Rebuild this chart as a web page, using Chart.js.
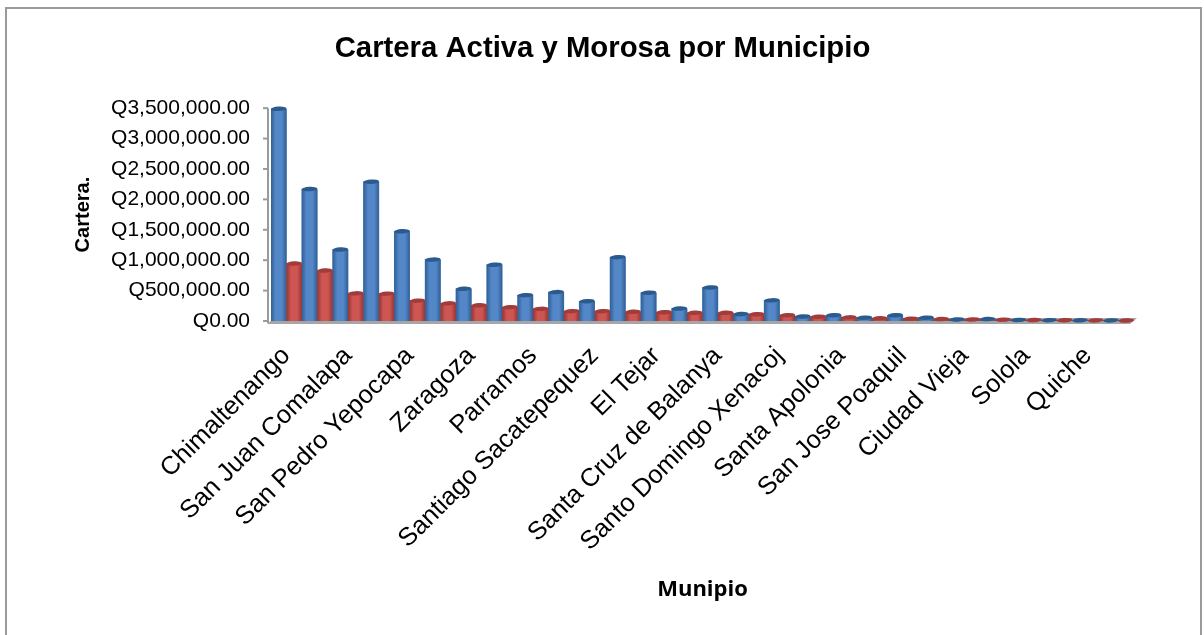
<!DOCTYPE html>
<html>
<head>
<meta charset="utf-8">
<script src="https://cdn.jsdelivr.net/npm/chart.js@4"></script>
<style>
  html, body { margin: 0; padding: 0; background: #fff; overflow: hidden; }
  #frame { position: absolute; left: 5px; top: 7px; width: 1197px; height: 640px; border: 2px solid #9a9a9a; box-sizing: border-box; }
  #wrap { position: absolute; left: 0; top: 0; width: 1204px; height: 635px; }
</style>
</head>
<body>
<div id="frame"></div>
<div id="wrap"><canvas id="chart"></canvas></div>
<script>
// only every second municipality name is readable on the axis
const categories = ['Chimaltenango', '', 'San Juan Comalapa', '', 'San Pedro Yepocapa', '', 'Zaragoza', '',
  'Parramos', '', 'Santiago Sacatepequez', '', 'El Tejar', '', 'Santa Cruz de Balanya', '',
  'Santo Domingo Xenacoj', '', 'Santa Apolonia', '', 'San Jose Poaquil', '', 'Ciudad Vieja', '',
  'Solola', '', 'Quiche', ''];
const activa = [3490000, 2170000, 1175000, 2290000, 1475000, 1010000, 530000, 925000, 425000, 475000,
  325000, 1050000, 465000, 205000, 552000, 115000, 340000, 75000, 95000, 55000,
  95000, 55000, 25000, 32000, 18000, 14000, 12000, 10000];
const morosa = [945000, 830000, 455000, 450000, 335000, 290000, 258000, 228000, 200000, 162000,
  162000, 152000, 145000, 135000, 135000, 112000, 96000, 70000, 60000, 45000,
  38000, 32000, 26000, 22000, 16000, 13000, 10000, 8000];
const yTicks = [0, 500000, 1000000, 1500000, 2000000, 2500000, 3000000, 3500000];

const money = v => 'Q' + v.toLocaleString('en-US', { minimumFractionDigits: 2, maximumFractionDigits: 2 });

// cylinder look: side shading and a cap on top of every bar, plus the grey floor and wall line
const cylinders = {
  id: 'cylinders',
  beforeDatasetsDraw(chart) {
    const { ctx, chartArea: a, scales } = chart;
    ctx.save();
    ctx.fillStyle = '#a6a6a6';
    ctx.beginPath();
    ctx.moveTo(a.left - 4, a.bottom + 3);
    ctx.lineTo(a.right - 4, a.bottom + 3);
    ctx.lineTo(a.right + 3, a.bottom - 3);
    ctx.lineTo(a.left + 3, a.bottom - 3);
    ctx.closePath();
    ctx.fill();
    ctx.strokeStyle = '#9a9a9a';
    ctx.lineWidth = 2;
    ctx.beginPath();
    ctx.moveTo(a.left - 3, a.top);
    ctx.lineTo(a.left - 3, a.bottom + 2);
    ctx.stroke();
    yTicks.forEach(t => {
      const y = scales.y.getPixelForValue(t);
      ctx.beginPath();
      ctx.moveTo(a.left - 8, y);
      ctx.lineTo(a.left - 3, y);
      ctx.stroke();
    });
    ctx.restore();
  },
  afterDatasetsDraw(chart) {
    const { ctx } = chart;
    const shades = [['#2f5f94', '#5487c8', '#2a5a8e'], ['#963533', '#cd5552', '#a23c3a']];
    chart.data.datasets.forEach((ds, i) => {
      const [dark, light, cap] = shades[i];
      chart.getDatasetMeta(i).data.forEach(bar => {
        const l = bar.x - bar.width / 2, r = bar.x + bar.width / 2;
        const g = ctx.createLinearGradient(l, 0, r, 0);
        g.addColorStop(0, dark);
        g.addColorStop(0.3, light);
        g.addColorStop(0.7, light);
        g.addColorStop(1, dark);
        ctx.fillStyle = g;
        ctx.fillRect(l, bar.y, bar.width, bar.base - bar.y);
        ctx.fillStyle = cap;
        ctx.beginPath();
        ctx.ellipse(bar.x, bar.y, bar.width / 2, 2.2, -0.06, 0, Math.PI * 2);
        ctx.fill();
      });
    });
  }
};

new Chart(document.getElementById('chart'), {
  type: 'bar',
  data: {
    labels: categories,
    datasets: [
      { label: 'Activa', data: activa, backgroundColor: '#4f81bd', barPercentage: 1, categoryPercentage: 1 },
      { label: 'Morosa', data: morosa, backgroundColor: '#c0504d', barPercentage: 1, categoryPercentage: 1 }
    ]
  },
  options: {
    responsive: true,
    maintainAspectRatio: false,
    animation: false,
    layout: { padding: { left: 71, right: 70, top: 0, bottom: 28 } },
    plugins: {
      legend: { display: false },
      tooltip: { enabled: false },
      title: {
        display: true,
        text: 'Cartera Activa y Morosa por Municipio',
        color: '#000',
        font: { family: 'Liberation Sans', size: 29.3, weight: 'bold' },
        padding: { top: 31, bottom: 42 }
      }
    },
    scales: {
      x: {
        afterFit: axis => { axis.height = 286; },
        grid: { display: false, drawTicks: false },
        border: { display: false },
        ticks: {
          autoSkip: false,
          maxRotation: 45,
          minRotation: 45,
          color: '#000',
          padding: 20,
          font: { family: 'Liberation Sans', size: 25.5 }
        },
        title: {
          display: true,
          text: 'Munipio',
          color: '#000',
          font: { family: 'Open Sans', size: 22, weight: 'bold' },
          padding: { top: 0, bottom: 4 }
        }
      },
      y: {
        min: 0,
        max: 3500000,
        afterFit: axis => { axis.width = 200; },
        afterBuildTicks: axis => { axis.ticks = yTicks.map(value => ({ value })); },
        grid: { display: false, drawTicks: false },
        border: { display: false },
        ticks: {
          color: '#000',
          padding: 21,
          callback: v => money(v),
          font: { family: 'Liberation Sans', size: 21 }
        },
        title: {
          display: true,
          text: 'Cartera.',
          color: '#000',
          font: { family: 'Liberation Sans', size: 20, weight: 'bold' },
          padding: { top: 0, bottom: 0 }
        }
      }
    }
  },
  plugins: [cylinders]
});
</script>
</body>
</html>
